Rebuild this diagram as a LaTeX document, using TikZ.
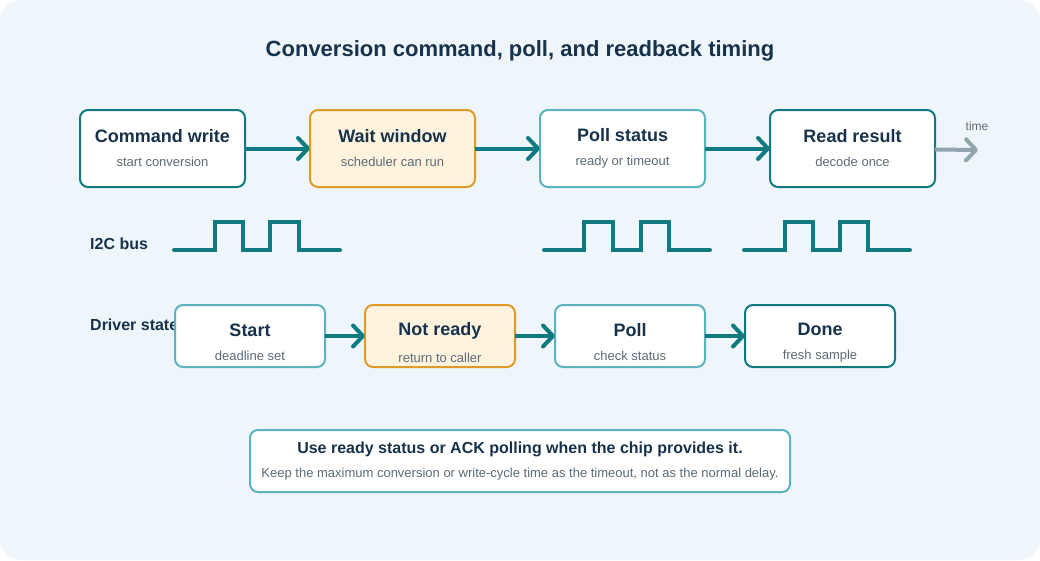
\documentclass[tikz,border=0pt]{standalone}
\usepackage{fontspec}
\setmainfont{Liberation Sans}
\usetikzlibrary{arrows.meta, positioning}

\definecolor{pagebg}{HTML}{EEF6FC}
\definecolor{tealdark}{HTML}{107A80}
\definecolor{teallight}{HTML}{5BB3BE}
\definecolor{ambline}{HTML}{DE9B2A}
\definecolor{ambfill}{HTML}{FFF3DE}
\definecolor{inkdark}{HTML}{17324A}
\definecolor{inksoft}{HTML}{5B6B78}
\definecolor{timegray}{HTML}{91A5AE}

\begin{document}
\begin{tikzpicture}[x=1pt, y=-1pt,
        node distance=65pt,
        stage/.style={rectangle, rounded corners=8pt, line width=2pt, fill=white, minimum width=165pt, minimum height=77pt, inner sep=0pt, outer sep=0pt, align=center, text=inkdark},
        state/.style={stage, minimum width=150pt, minimum height=62pt},
        dark/.style={draw=tealdark},
        light/.style={draw=teallight},
        wait/.style={draw=ambline, fill=ambfill},
        flow/.style={-{Straight Barb[length=10pt, width=21pt, line cap=round, line join=round]}, line width=4pt, tealdark},
        wave/.style={line width=4pt, tealdark, line cap=round, line join=miter},
        lane/.style={anchor=west, inner sep=0pt, font=\fontsize{16}{18}\selectfont\bfseries, text=inkdark}
      ]

\useasboundingbox (0,0) rectangle (1040,560);
      \fill[white] (0,0) rectangle (1040,560);
      \fill[pagebg, rounded corners=20pt] (0,0) rectangle (1040,560);

\node[font=\fontsize{22}{26}\selectfont\bfseries, text=inkdark] (title) at (520,51) {Conversion command, poll, and readback timing};

% top row: what the bus does
      \node[stage, dark] (cmd) at (162.5,148.5) {{\fontsize{18}{21}\selectfont\bfseries Command write}\\[12pt]{\fontsize{13}{15}\selectfont\color{inksoft} start conversion}};
      \node[stage, wait, right=of cmd] (waitwin) {{\fontsize{18}{21}\selectfont\bfseries Wait window}\\[12pt]{\fontsize{13}{15}\selectfont\color{inksoft} scheduler can run}};
      \node[stage, light, right=of waitwin] (pollst) {{\fontsize{18}{21}\selectfont\bfseries Poll status}\\[12pt]{\fontsize{13}{15}\selectfont\color{inksoft} ready or timeout}};
      \node[stage, dark, right=of pollst] (readres) {{\fontsize{18}{21}\selectfont\bfseries Read result}\\[12pt]{\fontsize{13}{15}\selectfont\color{inksoft} decode once}};
      \coordinate (timeend) at (978,150);
      \node[font=\fontsize{12}{14}\selectfont, text=inksoft] (timelbl) at (977,126) {time};

\draw[flow] (cmd) -- (waitwin);
      \draw[flow] (waitwin) -- (pollst);
      \draw[flow] (pollst) -- (readres);
      \draw[flow, timegray] (readres) -- (timeend);

% bus activity
      \node[lane] (buslbl) at (90,244) {I2C bus};
      \draw[wave] (174,250) -- (215,250) -- (215,222) -- (243,222) -- (243,250) -- (270,250) -- (270,222) -- (299,222) -- (299,250) -- (340,250);
      \draw[wave] (544,250) -- (584,250) -- (584,222) -- (613,222) -- (613,250) -- (641,250) -- (641,222) -- (669,222) -- (669,250) -- (710,250);
      \draw[wave] (744,250) -- (785,250) -- (785,222) -- (813,222) -- (813,250) -- (840,250) -- (840,222) -- (868,222) -- (868,250) -- (910,250);

% driver side
      \node[lane] (drvlbl) at (90,325) {Driver state};
      \node[state, light] (start) at (250,336) {{\fontsize{18}{21}\selectfont\bfseries Start\rule{0pt}{26pt}}\\[12pt]{\fontsize{13}{15}\selectfont\color{inksoft} deadline set}};
      \node[state, wait, right=40pt of start] (notready) {{\fontsize{18}{21}\selectfont\bfseries Not ready\rule{0pt}{26pt}}\\[12pt]{\fontsize{13}{15}\selectfont\color{inksoft} return to caller}};
      \node[state, light, right=40pt of notready] (poll) {{\fontsize{18}{21}\selectfont\bfseries Poll\rule{0pt}{26pt}}\\[12pt]{\fontsize{13}{15}\selectfont\color{inksoft} check status}};
      \node[state, dark, right=40pt of poll] (done) {{\fontsize{18}{21}\selectfont\bfseries Done\rule{0pt}{26pt}}\\[12pt]{\fontsize{13}{15}\selectfont\color{inksoft} fresh sample}};

\draw[flow] (start) -- (notready);
      \draw[flow] (notready) -- (poll);
      \draw[flow] (poll) -- (done);

\node[stage, light, minimum width=540pt, minimum height=62pt] (note) at (520,461) {{\fontsize{16}{19}\selectfont\bfseries Use ready status or ACK polling when the chip provides it.}\\[11pt]{\fontsize{13}{15}\selectfont\color{inksoft} Keep the maximum conversion or write-cycle time as the timeout, not as the normal delay.}};

      \end{tikzpicture}
\end{document}
